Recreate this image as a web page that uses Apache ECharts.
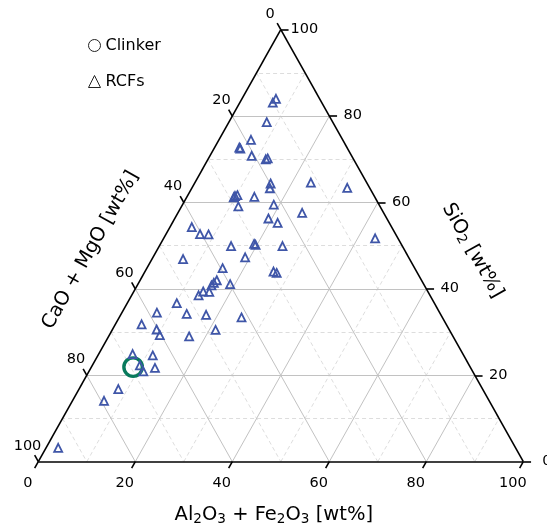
<!DOCTYPE html>
<html>
<head>
<meta charset="utf-8">
<script src="https://cdn.jsdelivr.net/npm/echarts@6/dist/echarts.min.js"></script>
<style>
  html, body { margin: 0; padding: 0; background: #fff; }
  #chart { width: 547px; height: 528px; }
</style>
</head>
<body>
<div id="chart"></div>
<script>
// Sample compositions in wt%: [Al2O3 + Fe2O3, CaO + MgO, SiO2]
const clinker = [[8.6, 69.5, 21.9]];

const rcfs = [
  [7.0, 9.0, 84.0], [6.8, 10.1, 83.1], [7.8, 13.6, 78.6], [6.6, 18.9, 74.5],
  [5.1, 22.2, 72.7], [5.4, 22.1, 72.5], [8.6, 20.6, 70.8], [11.9, 18.1, 70.0],
  [12.2, 17.6, 70.2], [15.7, 19.9, 64.4], [16.1, 20.6, 63.3], [23.9, 11.5, 64.6],
  [32.0, 4.6, 63.4], [9.8, 28.7, 61.5], [10.2, 28.1, 61.7], [9.7, 29.1, 61.2],
  [13.9, 24.8, 61.3], [11.7, 29.2, 59.1], [18.8, 21.7, 59.5], [25.6, 16.8, 57.6],
  [19.3, 24.4, 56.3], [21.7, 23.0, 55.3], [4.5, 41.2, 54.3], [7.0, 40.3, 52.7],
  [8.8, 38.6, 52.6], [14.8, 35.3, 49.9], [19.3, 30.3, 50.4], [19.7, 30.1, 50.2],
  [25.4, 24.7, 49.9], [43.6, 4.7, 51.7], [19.0, 33.7, 47.3], [6.4, 46.7, 46.9],
  [15.6, 39.6, 44.8], [26.5, 29.5, 44.0], [27.3, 29.0, 43.7], [15.8, 42.2, 42.0],
  [15.5, 43.1, 41.4], [15.3, 43.9, 40.8], [19.0, 39.9, 41.1], [14.3, 46.3, 39.4],
  [15.6, 45.1, 39.3], [13.8, 47.7, 38.5], [10.2, 53.1, 36.7], [7.2, 58.3, 34.5],
  [13.5, 52.3, 34.2], [17.6, 48.4, 34.0], [25.2, 41.4, 33.4], [5.4, 62.8, 31.8],
  [9.1, 60.3, 30.6], [10.4, 60.3, 29.3], [21.3, 48.2, 30.5], [16.6, 54.4, 29.0],
  [7.0, 68.1, 24.9], [11.3, 64.1, 24.6], [9.8, 67.9, 22.3], [11.2, 67.9, 20.9],
  [13.2, 65.1, 21.7], [8.1, 75.1, 16.8], [6.5, 79.4, 14.1], [2.5, 94.3, 3.2]
];

const tickValues = [0, 20, 40, 60, 80, 100];
const majorGrid = [20, 40, 60, 80];
const minorGrid = [10, 30, 50, 70, 90];

// Axis titles as rich text: {b|...} normal, {s|...} subscript
const titleBottom = '{b|Al}{s|2}{b|O}{s|3}{b| + Fe}{s|2}{b|O}{s|3}{b| [wt%]}';
const titleLeft = '{b|CaO + MgO [wt%]}';
const titleRight = '{b|SiO}{s|2}{b| [wt%]}';
const seriesNames = ['Clinker', 'RCFs'];

// Ternary [a, c, s] -> cartesian [a + s/2, s] on 0..100 value axes
function proj(p) {
  return [p[0] + p[2] / 2, p[2]];
}
function seg(p, q) {
  return { coords: [proj(p), proj(q)] };
}
function gridSegments(values) {
  const out = [];
  values.forEach(function (v) {
    out.push(seg([v, 100 - v, 0], [v, 0, 100 - v]));      // constant Al2O3+Fe2O3
    out.push(seg([0, v, 100 - v], [100 - v, v, 0]));      // constant CaO+MgO
    out.push(seg([100 - v, 0, v], [0, 100 - v, v]));      // constant SiO2
  });
  return out;
}
// Label offsets are applied in the rotated text frame; convert a screen offset
function localOffset(dx, dy, deg) {
  const t = deg * Math.PI / 180, c = Math.cos(t), s = Math.sin(t);
  return [dx * c - dy * s, dx * s + dy * c];
}

const tickLen = 1.5;
const tickSegs = [];
const tickLabelData = [];
tickValues.forEach(function (v) {
  tickSegs.push(seg([v, 100 - v, 0], [v, 100 - v + tickLen, -tickLen]));
  tickSegs.push(seg([0, v, 100 - v], [-tickLen, v, 100 - v + tickLen]));
  tickSegs.push(seg([100 - v, 0, v], [100 - v + 1.6, -1.6, v]));
  tickLabelData.push({ value: proj([v, 100 - v, 0]), label: { formatter: String(v), offset: [-10.5, 21.5] } });
  tickLabelData.push({ value: proj([0, v, 100 - v]), label: { formatter: String(v), offset: [-10.8, -15.8] } });
  tickLabelData.push({ value: proj([100 - v, 0, v]), label: { formatter: String(v), offset: [23.5, -0.5] } });
});

const edgeSegs = [
  seg([0, 100, 0], [100, 0, 0]),
  seg([100, 0, 0], [0, 0, 100]),
  seg([0, 0, 100], [0, 100, 0])
];

const angle = 60.7;
const titleData = [
  { value: proj([50, 50, 0]), label: { formatter: titleBottom, offset: [-7, 53], rotate: 0 } },
  { value: proj([0, 50, 50]), label: { formatter: titleLeft, offset: localOffset(-69, 4.5, angle), rotate: angle } },
  { value: proj([50, 0, 50]), label: { formatter: titleRight, offset: localOffset(70.5, 5, -angle), rotate: -angle } }
];

const FONT = 'DejaVu Sans';
const chart = echarts.init(document.getElementById('chart'), null, { renderer: 'canvas' });

chart.setOption({
  animation: false,
  backgroundColor: '#fff',
  grid: { left: 38.3, right: 23.7, top: 29.7, bottom: 66.3, containLabel: false },
  xAxis: { type: 'value', min: 0, max: 100, show: false },
  yAxis: { type: 'value', min: 0, max: 100, show: false },
  legend: {
    orient: 'vertical',
    left: 88,
    top: 37.5,
    padding: 0,
    itemWidth: 12,
    itemHeight: 12,
    itemGap: 20,
    selectedMode: false,
    textStyle: { fontFamily: FONT, fontSize: 16, color: '#000' },
    data: [
      { name: seriesNames[0], icon: 'circle', itemStyle: { color: 'rgba(0,0,0,0)', borderColor: '#222', borderWidth: 1, opacity: 1 } },
      { name: seriesNames[1], icon: 'triangle', itemStyle: { color: 'rgba(0,0,0,0)', borderColor: '#222', borderWidth: 1, opacity: 1 } }
    ]
  },
  series: [
    {
      type: 'lines', coordinateSystem: 'cartesian2d', silent: true, clip: false, z: 1,
      lineStyle: { color: '#d4d4d4', width: 0.8, type: [4, 3], opacity: 1 },
      data: gridSegments(minorGrid)
    },
    {
      type: 'lines', coordinateSystem: 'cartesian2d', silent: true, clip: false, z: 2,
      lineStyle: { color: '#c2c2c2', width: 1, opacity: 1 },
      data: gridSegments(majorGrid)
    },
    {
      type: 'lines', coordinateSystem: 'cartesian2d', silent: true, clip: false, z: 3,
      lineStyle: { color: '#000', width: 1.6, opacity: 1 },
      data: edgeSegs.concat(tickSegs)
    },
    {
      type: 'scatter', silent: true, clip: false, z: 3,
      symbolSize: 1, itemStyle: { color: 'rgba(0,0,0,0)', opacity: 1 },
      label: { show: true, position: 'inside', align: 'center', verticalAlign: 'middle',
               fontFamily: FONT, fontSize: 14.5, color: '#000', opacity: 1 },
      data: tickLabelData
    },
    {
      type: 'scatter', silent: true, clip: false, z: 3,
      symbolSize: 1, itemStyle: { color: 'rgba(0,0,0,0)', opacity: 1 },
      label: {
        show: true, position: 'inside', align: 'center', verticalAlign: 'middle',
        fontFamily: FONT, fontSize: 19.5, color: '#000', opacity: 1,
        rich: {
          b: { fontFamily: FONT, fontSize: 19.5, color: '#000', verticalAlign: 'middle' },
          s: { fontFamily: FONT, fontSize: 13.6, color: '#000', verticalAlign: 'middle', padding: [9, 0, 0, 0] }
        }
      },
      data: titleData
    },
    {
      name: seriesNames[0], type: 'scatter', clip: false, z: 4,
      symbol: 'circle', symbolSize: 18.5,
      itemStyle: { color: 'rgba(0,0,0,0)', borderColor: '#087a5c', borderWidth: 3.4, opacity: 1 },
      data: clinker.map(proj)
    },
    {
      name: seriesNames[1], type: 'scatter', clip: false, z: 5,
      symbol: 'triangle', symbolSize: 8,
      itemStyle: { color: 'rgba(0,0,0,0)', borderColor: '#3f56a8', borderWidth: 1.8, opacity: 1 },
      data: rcfs.map(proj)
    }
  ]
});
</script>
</body>
</html>
